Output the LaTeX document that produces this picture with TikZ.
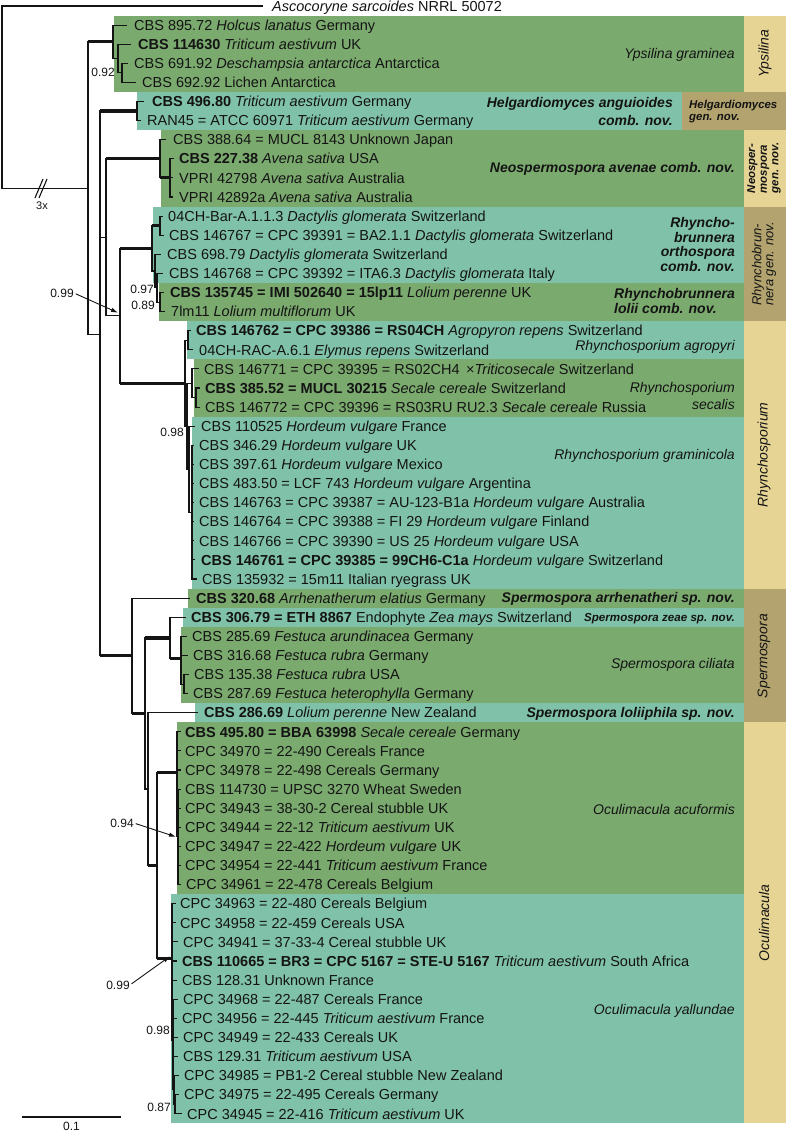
\documentclass[tikz,border=0pt]{standalone}
\usepackage{fontspec}
\setmainfont{Liberation Sans}
\usetikzlibrary{arrows.meta,calc}
\definecolor{cgreen}{RGB}{123,170,111}
\definecolor{cteal}{RGB}{128,194,169}
\definecolor{ctan}{RGB}{229,212,148}
\definecolor{cdtan}{RGB}{179,164,111}
\definecolor{ink}{RGB}{20,20,20}
\newcommand{\myry}[1]{6+19.1*#1}
\newcommand{\mylf}{\fontsize{14.5}{17}\selectfont}
\newcommand{\mysp}{\fontsize{14}{17}\selectfont}
\newcommand{\mysm}{\fontsize{12}{14}\selectfont}
\newcommand{\mynd}[3]{\coordinate (#1) at (#2,#3);}
\newcommand{\mybr}[2]{\draw[brl] (#1) |- (#2);}
\newcommand{\mytb}[2]{\draw[brl] (#1) |- (#2);\draw[thk] (#1 |- #2) -- (#2);}
\newcommand{\myleaf}[6]{\coordinate (#1) at (#4,{\myry{#2}});\draw[brl] (#3) |- (#1);\node[lab] (#1t) at (#5,{\myry{#2}+5.2}) {#6};}
\newcommand{\mybox}[5]{\fill[#1] (#2,{\myry{#3}-9.55}) rectangle (#4,{\myry{#5}+9.55});}
\begin{document}
\begin{tikzpicture}[x=1pt,y=-1pt,
  brl/.style={line width=1.1pt,draw=ink},
  thk/.style={line width=3.2pt,draw=ink},
  mid/.style={line width=2.4pt,draw=ink},
  lab/.style={anchor=base west,inner sep=0pt,font=\mylf,text=ink},
  spc/.style={anchor=base east,inner sep=0pt,font=\mysp,text=ink},
  sup/.style={inner sep=0pt,font=\mysm,text=ink},
  gen/.style={rotate=90,inner sep=0pt,font=\mysp,text=ink},
  arr/.style={line width=0.9pt,draw=ink,shorten <=2pt,-{Latex[length=7pt,width=4.5pt]}}]
\useasboundingbox (0,0) rectangle (786,1131);
% clade boxes
\mybox{cgreen}{114}{1}{744}{4}
\mybox{cteal}{137}{5}{682}{6}
\mybox{cgreen}{161}{7}{744}{10}
\mybox{cteal}{153}{11}{744}{14}
\mybox{cgreen}{159}{15}{744}{16}
\mybox{cteal}{187}{17}{744}{18}
\mybox{cgreen}{194}{19}{744}{21}
\mybox{cteal}{192}{22}{744}{30}
\mybox{cgreen}{188}{31}{744}{31}
\mybox{cteal}{183}{32}{744}{32}
\mybox{cgreen}{181}{33}{744}{36}
\mybox{cteal}{195}{37}{744}{37}
\mybox{cgreen}{177}{38}{744}{46}
\mybox{cteal}{171}{47}{744}{58}
% genus bars
\mybox{ctan}{744}{1}{786}{4}
\mybox{cdtan}{682}{5}{786}{6}
\mybox{ctan}{744}{7}{786}{10}
\mybox{cdtan}{744}{11}{786}{16}
\mybox{ctan}{744}{17}{786}{30}
\mybox{cdtan}{744}{31}{786}{37}
\mybox{ctan}{744}{38}{786}{58}
% internal nodes
\mynd{R}{2}{97.1}
\mynd{Nzero}{88}{188.25}
\mynd{Y}{113}{41.8}
\mynd{Ytwo}{118}{58.5}
\mynd{Ythree}{122}{72.85}
\mynd{None}{100}{334.7}
\mynd{H}{137}{111.05}
\mynd{Ntwo}{106}{237.3}
\mynd{NS}{160}{158.8}
\mynd{NStwo}{170}{177.9}
\mynd{Nthree}{120}{315.75}
\mynd{RB}{152}{248.3}
\mynd{RC}{160}{225.65}
\mynd{RBb}{155}{271}
\mynd{RA}{157}{287.7}
\mynd{RL}{160}{302.05}
\mynd{RS}{185}{383.2}
\mynd{AG}{188}{340.25}
\mynd{P}{187}{426.2}
\mynd{SEC}{192}{383.2}
\mynd{SECb}{196}{397.55}
\mynd{G}{189}{469.2}
\mynd{GG}{192}{512.15}
\mynd{Nfour}{132}{655.8}
\mynd{SO}{145}{713.5}
\mynd{SA}{170}{637.9}
\mynd{CI}{181}{658.6}
\mynd{CIb}{184}{684.05}
\mynd{LO}{148}{789.0}
\mynd{OC}{157}{865.4}
\mynd{AC}{177}{772.4}
\mynd{AX}{178}{836.85}
\mynd{YA}{172}{958.3}
\mynd{YB}{173}{1040.3}
\mynd{YC}{174}{1089.9}
\mynd{YD}{175}{1104.25}
% internal edges
\mybr{R}{Nzero}
\mytb{Nzero}{Y}
\mybr{Nzero}{None}
\mybr{Y}{Ytwo}
\mybr{Ytwo}{Ythree}
\mytb{None}{H}
\mybr{None}{Ntwo}
\mytb{None}{Nfour}
\mytb{Ntwo}{NS}
\mybr{Ntwo}{Nthree}
\mytb{NS}{NStwo}
\mytb{Nthree}{RB}
\mytb{Nthree}{RS}
\mytb{RB}{RC}
\mybr{RB}{RBb}
\mybr{RBb}{RA}
\mybr{RA}{RL}
\mybr{RS}{AG}
\mybr{RS}{P}
\mybr{P}{SEC}
\mybr{SEC}{SECb}
\mybr{P}{G}
\mybr{G}{GG}
\mytb{Nfour}{SO}
\mytb{SO}{SA}
\mybr{SO}{LO}
\mytb{SA}{CI}
\mybr{CI}{CIb}
\mytb{LO}{OC}
\mytb{OC}{AC}
\mytb{OC}{YA}
\mybr{AC}{AX}
\mybr{YA}{YB}
\mybr{YB}{YC}
\mybr{YC}{YD}
% root break
\draw[brl] (35,198) -- (43,179);
\draw[brl] (39,198) -- (47,179);
\node[sup,font=\fontsize{11}{13}\selectfont] (three) at (42,206) {3x};
% leaves
\myleaf{l0}{0}{R}{263}{272}{\textit{Ascocoryne sarcoides} NRRL 50072}
\myleaf{l1}{1}{Y}{127}{134}{CBS 895.72 \textit{Holcus lanatus} Germany}
\myleaf{l2}{2}{Ytwo}{131}{138}{\textbf{CBS 114630} \textit{Triticum aestivum} UK}
\myleaf{l3}{3}{Ythree}{128}{134}{CBS 691.92 \textit{Deschampsia antarctica} Antarctica}
\myleaf{l4}{4}{Ythree}{136}{142}{CBS 692.92 Lichen Antarctica}
\myleaf{l5}{5}{H}{144}{152}{\textbf{CBS 496.80} \textit{Triticum aestivum} Germany}
\myleaf{l6}{6}{H}{141}{147}{RAN45 = ATCC 60971 \textit{Triticum aestivum} Germany}
\myleaf{l7}{7}{NS}{166}{173}{CBS 388.64 = MUCL 8143 Unknown Japan}
\myleaf{l8}{8}{NStwo}{174}{179}{\textbf{CBS 227.38} \textit{Avena sativa} USA}
\myleaf{l9}{9}{NStwo}{173}{179}{VPRI 42798 \textit{Avena sativa} Australia}
\myleaf{l10}{10}{NStwo}{173}{179}{VPRI 42892a \textit{Avena sativa} Australia}
\myleaf{l11}{11}{RC}{163}{168}{04CH-Bar-A.1.1.3 \textit{Dactylis glomerata} Switzerland}
\myleaf{l12}{12}{RC}{164}{169}{CBS 146767 = CPC 39391 = BA2.1.1 \textit{Dactylis glomerata} Switzerland}
\myleaf{l13}{13}{RBb}{161}{167}{CBS 698.79 \textit{Dactylis glomerata} Switzerland}
\myleaf{l14}{14}{RA}{163}{169}{CBS 146768 = CPC 39392 = ITA6.3 \textit{Dactylis glomerata} Italy}
\myleaf{l15}{15}{RL}{164}{170}{\textbf{CBS 135745 = IMI 502640 = 15lp11} \textit{Lolium perenne} UK}
\myleaf{l16}{16}{RL}{165}{171}{7lm11 \textit{Lolium multiflorum} UK}
\myleaf{l17}{17}{AG}{191}{196}{\textbf{CBS 146762 = CPC 39386 = RS04CH} \textit{Agropyron repens} Switzerland}
\myleaf{l18}{18}{AG}{193}{199}{04CH-RAC-A.6.1 \textit{Elymus repens} Switzerland}
\myleaf{l19}{19}{SEC}{199}{204}{CBS 146771 = CPC 39395 = RS02CH4 \,×\textit{Triticosecale} Switzerland}
\myleaf{l20}{20}{SECb}{200}{205}{\textbf{CBS 385.52 = MUCL 30215} \textit{Secale cereale} Switzerland}
\myleaf{l21}{21}{SECb}{200}{205}{CBS 146772 = CPC 39396 = RS03RU RU2.3 \textit{Secale cereale} Russia}
\myleaf{l22}{22}{G}{195}{201}{CBS 110525 \textit{Hordeum vulgare} France}
\myleaf{l23}{23}{GG}{194}{199}{CBS 346.29 \textit{Hordeum vulgare} UK}
\myleaf{l24}{24}{GG}{194}{199}{CBS 397.61 \textit{Hordeum vulgare} Mexico}
\myleaf{l25}{25}{GG}{194}{199}{CBS 483.50 = LCF 743 \textit{Hordeum vulgare} Argentina}
\myleaf{l26}{26}{GG}{194}{199}{CBS 146763 = CPC 39387 = AU-123-B1a \textit{Hordeum vulgare} Australia}
\myleaf{l27}{27}{GG}{194}{199}{CBS 146764 = CPC 39388 = FI 29 \textit{Hordeum vulgare} Finland}
\myleaf{l28}{28}{GG}{194}{199}{CBS 146766 = CPC 39390 = US 25 \textit{Hordeum vulgare} USA}
\myleaf{l29}{29}{GG}{195}{201}{\textbf{CBS 146761 = CPC 39385 = 99CH6-C1a} \textit{Hordeum vulgare} Switzerland}
\myleaf{l30}{30}{GG}{197}{202}{CBS 135932 = 15m11 Italian ryegrass UK}
\myleaf{l31}{31}{Nfour}{190}{196}{\textbf{CBS 320.68} \textit{Arrhenatherum elatius} Germany}
\myleaf{l32}{32}{SA}{186}{191}{\textbf{CBS 306.79 = ETH 8867} Endophyte \textit{Zea mays} Switzerland}
\myleaf{l33}{33}{CI}{187}{192}{CBS 285.69 \textit{Festuca arundinacea} Germany}
\myleaf{l34}{34}{CI}{188}{193}{CBS 316.68 \textit{Festuca rubra} Germany}
\myleaf{l35}{35}{CIb}{189}{194}{CBS 135.38 \textit{Festuca rubra} USA}
\myleaf{l36}{36}{CIb}{188}{193}{CBS 287.69 \textit{Festuca heterophylla} Germany}
\myleaf{l37}{37}{LO}{198}{204}{\textbf{CBS 286.69} \textit{Lolium perenne} New Zealand}
\myleaf{l38}{38}{AC}{181}{185}{\textbf{CBS 495.80 = BBA 63998} \textit{Secale cereale} Germany}
\myleaf{l39}{39}{AC}{181}{185}{CPC 34970 = 22-490 Cereals France}
\myleaf{l40}{40}{AC}{181}{185}{CPC 34978 = 22-498 Cereals Germany}
\myleaf{l41}{41}{AX}{181}{185}{CBS 114730 = UPSC 3270 Wheat Sweden}
\myleaf{l42}{42}{AX}{181}{185}{CPC 34943 = 38-30-2 Cereal stubble UK}
\myleaf{l43}{43}{AX}{181}{185}{CPC 34944 = 22-12 \textit{Triticum aestivum} UK}
\myleaf{l44}{44}{AX}{181}{185}{CPC 34947 = 22-422 \textit{Hordeum vulgare} UK}
\myleaf{l45}{45}{AX}{181}{185}{CPC 34954 = 22-441 \textit{Triticum aestivum} France}
\myleaf{l46}{46}{AX}{181}{186}{CPC 34961 = 22-478 Cereals Belgium}
\myleaf{l47}{47}{YA}{176}{180}{CPC 34963 = 22-480 Cereals Belgium}
\myleaf{l48}{48}{YA}{176}{180}{CPC 34958 = 22-459 Cereals USA}
\myleaf{l49}{49}{YA}{178}{183}{CPC 34941 = 37-33-4 Cereal stubble UK}
\myleaf{l50}{50}{YA}{177}{182}{\textbf{CBS 110665 = BR3 = CPC 5167 = STE-U 5167} \textit{Triticum aestivum} South Africa}
\myleaf{l51}{51}{YA}{177}{182}{CBS 128.31 Unknown France}
\myleaf{l52}{52}{YB}{178}{183}{CPC 34968 = 22-487 Cereals France}
\myleaf{l53}{53}{YB}{177}{182}{CPC 34956 = 22-445 \textit{Triticum aestivum} France}
\myleaf{l54}{54}{YB}{178}{183}{CPC 34949 = 22-433 Cereals UK}
\myleaf{l55}{55}{YB}{178}{183}{CBS 129.31 \textit{Triticum aestivum} USA}
\myleaf{l56}{56}{YC}{179}{184}{CPC 34985 = PB1-2 Cereal stubble New Zealand}
\myleaf{l57}{57}{YD}{179}{184}{CPC 34975 = 22-495 Cereals Germany}
\myleaf{l58}{58}{YD}{182}{187}{CPC 34945 = 22-416 \textit{Triticum aestivum} UK}
% thicker vertical segments of well supported nodes
\draw[mid] (RC |- l11) -- (RC |- l12);
\draw[mid] (NStwo |- l9) -- (NStwo |- l10);
\draw[mid] (YA |- l49) -- (YA |- l51);
% support values
\node[sup,anchor=base east] (s1) at (115,76.5) {0.92};
\node[sup] (s2) at (62,293) {0.99};
\draw[arr] (s2.east) -- ($(Nthree)+(-2,-3)$);
\node[sup,anchor=base east] (s3) at (154,293.3) {0.97};
\node[sup,anchor=base east] (s4) at (155,309.3) {0.89};
\node[sup,anchor=base east] (s5) at (184,436.3) {0.98};
\node[sup] (s6) at (122,823) {0.94};
\draw[arr] (s6.east) -- ($(AX)+(-2,0)$);
\node[sup] (s7) at (118,985) {0.99};
\draw[arr] (s7.east) -- ($(YA)+(-2,-2)$);
\node[sup,anchor=base east] (s8) at (170,1034.3) {0.98};
\node[sup,anchor=base east] (s9) at (171,1111.3) {0.87};
% scale bar
\coordinate (sba) at (22,1117);
\coordinate (sbb) at (121,1117);
\draw[brl] (sba) -- (sbb);
\node[sup,anchor=base] (sbl) at (71.5,1130) {0.1};
% species labels
\node[spc] (sp1) at (735,58.3) {\itshape Ypsilina graminea};
\node[anchor=east,inner sep=0pt,align=right,font=\fontsize{14}{18}\selectfont\bfseries\itshape,text=ink] (sp2) at (673,111.7) {Helgardiomyces anguioides\\comb. nov.};
\node[spc] (sp3) at (735,172.5) {\bfseries\itshape Neospermospora avenae comb. nov.};
\node[anchor=east,inner sep=0pt,align=right,font=\fontsize{14}{14.7}\selectfont\bfseries\itshape,text=ink] (sp4) at (735,244.5) {Rhyncho-\\brunnera\\orthospora\\comb. nov.};
\node[anchor=east,inner sep=0pt,align=left,font=\fontsize{14}{15}\selectfont\bfseries\itshape,text=ink] (sp5) at (735,301) {Rhynchobrunnera\\lolii comb. nov.};
\node[spc] (sp6) at (735,350) {\itshape Rhynchosporium agropyri};
\node[anchor=east,inner sep=0pt,align=right,font=\fontsize{14}{17}\selectfont\itshape,text=ink] (sp7) at (735,396) {Rhynchosporium\\secalis};
\node[spc] (sp8) at (735,459) {\itshape Rhynchosporium graminicola};
\node[spc] (sp9) at (735,602) {\bfseries\itshape Spermospora arrhenatheri sp. nov.};
\node[spc,font=\fontsize{11.6}{14}\selectfont] (sp10) at (735,621.2) {\bfseries\itshape Spermospora zeae sp. nov.};
\node[spc] (sp11) at (735,668.5) {\itshape Spermospora ciliata};
\node[spc] (sp12) at (735,717) {\bfseries\itshape Spermospora loliiphila sp. nov.};
\node[spc] (sp13) at (735,814) {\itshape Oculimacula acuformis};
\node[spc] (sp14) at (735,1014) {\itshape Oculimacula yallundae};
% genus labels
\node[gen] (g1) at (765,53.7) {\itshape Ypsilina};
\node[anchor=west,inner sep=0pt,align=left,font=\fontsize{11.4}{12}\selectfont\bfseries\itshape,text=ink] (g2) at (689,112) {Helgardiomyces\\gen. nov.};
\node[gen,align=left,font=\fontsize{11.4}{11.7}\selectfont\bfseries\itshape] (g3) at (764,168) {Neosper-\\mospora\\gen. nov.};
\node[gen,align=left,font=\fontsize{13}{12}\selectfont\itshape] (g4) at (764,264) {Rhynchobrun-\\nera gen. nov.};
\node[gen] (g5) at (764,455) {\itshape Rhynchosporium};
\node[gen] (g6) at (764,656) {\itshape Spermospora};
\node[gen] (g7) at (764,923) {\itshape Oculimacula};
\end{tikzpicture}
\end{document}
